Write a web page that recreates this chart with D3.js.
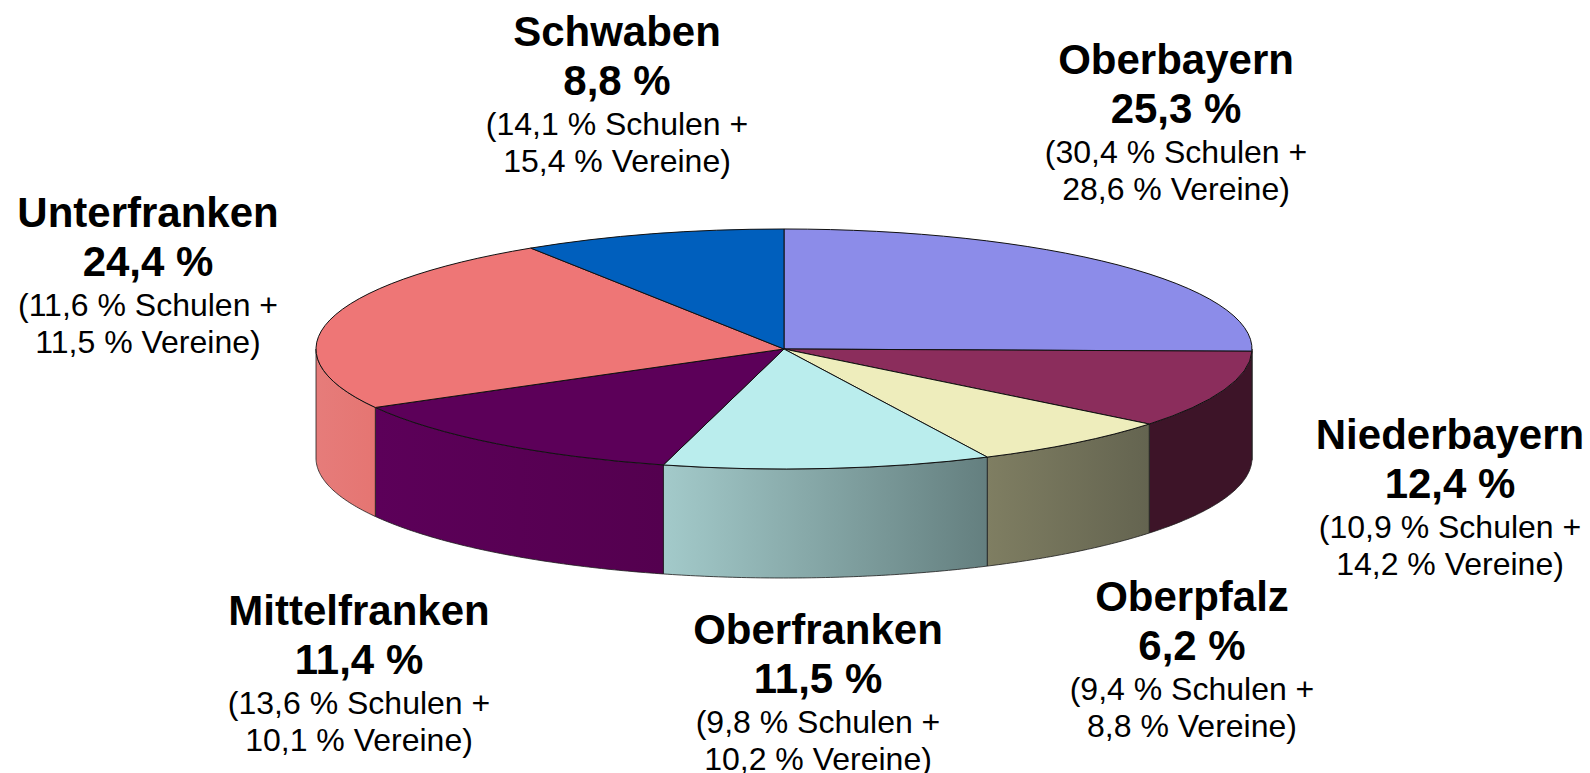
<!DOCTYPE html>
<html>
<head>
<meta charset="utf-8">
<script src="https://cdnjs.cloudflare.com/ajax/libs/d3/7.8.5/d3.min.js"></script>
<style>
  html, body { margin: 0; padding: 0; background: #fff; overflow: hidden; }
  svg { display: block; }
  text { font-family: "Liberation Sans", Arial, sans-serif; fill: #000; text-anchor: middle; }
  .name, .total { font-size: 42px; font-weight: bold; }
  .detail { font-size: 32px; }
</style>
</head>
<body>
<div id="chart"></div>
<script>
const regions = ["Oberbayern", "Niederbayern", "Oberpfalz", "Oberfranken", "Mittelfranken", "Unterfranken", "Schwaben"];
// printed labels
const totals  = ["25,3 %", "12,4 %", "6,2 %", "11,5 %", "11,4 %", "24,4 %", "8,8 %"];
const schulen = ["30,4", "10,9", "9,4", "9,8", "13,6", "11,6", "14,1"];
const vereine = ["28,6", "14,2", "8,8", "10,2", "10,1", "11,5", "15,4"];
// slice sizes as drawn in the picture, they differ a bit from the printed labels
const sliceShares = [25.3, 10.45, 7.1, 11.3, 12.75, 24.0, 9.1];

const topColors  = ["#8c8ce9", "#8b2d5c", "#eeedbc", "#baeded", "#5c0059", "#ee7676", "#005fbd"];
const wallLeft   = ["#6a6ab0", "#3d1428", "#7f7e62", "#a3caca", "#5c0059", "#e67c7a", "#005fbd"];
const wallRight  = ["#6a6ab0", "#3d1428", "#646450", "#647f7f", "#54004f", "#e57572", "#005fbd"];

const labelX    = [1176, 1450, 1192, 818, 359, 148, 617];
const labelY    = [74, 449, 611, 644, 625, 227, 46];

const width = 1590, height = 773;
const cx = 784, cy = 349, rx = 468, ry = 120, depth = 109;

const svg = d3.select("#chart")
              .append("svg")
                .attr("width", width)
                .attr("height", height);

const defs = svg.append("defs");

const slices = d3.pie().sort(null).value(d => d)(sliceShares);

const px = a => cx + rx * Math.sin(a);
const py = a => cy - ry * Math.cos(a);

// only the front half of the disc shows a wall
const wallFrom = Math.PI / 2, wallTo = Math.PI * 1.5;

const wall = d3.area()
  .x(px)
  .y0(py)
  .y1(a => py(a) + depth);

const walls = svg.append("g").attr("class", "walls");

slices.forEach(function(s, i) {
  const a0 = Math.max(s.startAngle, wallFrom);
  const a1 = Math.min(s.endAngle, wallTo);
  if (a1 <= a0) return;

  // angles run clockwise, so the left edge on screen is a1
  const grad = defs.append("linearGradient")
    .attr("id", "wall" + i)
    .attr("gradientUnits", "userSpaceOnUse")
    .attr("x1", Math.min(px(a0), px(a1)))
    .attr("x2", Math.max(px(a0), px(a1)))
    .attr("y1", 0)
    .attr("y2", 0);
  grad.append("stop").attr("offset", 0).attr("stop-color", wallLeft[i]);
  grad.append("stop").attr("offset", 1).attr("stop-color", wallRight[i]);

  const steps = d3.range(a0, a1, 0.01).concat([a1]);
  walls.append("path")
    .attr("d", wall(steps))
    .attr("fill", `url(#wall${i})`)
    .attr("stroke", "#1c1c1c")
    .attr("stroke-width", 0.8);
});

const arc = d3.arc().innerRadius(0).outerRadius(rx);

svg.append("g")
    .attr("transform", `translate(${cx},${cy}) scale(1,${ry / rx})`)
  .selectAll("path")
  .data(slices)
  .join("path")
    .attr("d", arc)
    .attr("fill", (d, i) => topColors[i])
    .attr("stroke", "#111")
    .attr("stroke-width", 1)
    .attr("stroke-linejoin", "round")
    .attr("vector-effect", "non-scaling-stroke");

const labels = svg.append("g")
  .selectAll("text")
  .data(regions)
  .join("text")
    .attr("transform", (d, i) => `translate(${labelX[i]},${labelY[i]})`);

labels.append("tspan").attr("class", "name").attr("x", 0).attr("y", 0)
  .text(d => d);
labels.append("tspan").attr("class", "total").attr("x", 0).attr("y", 49)
  .text((d, i) => totals[i]);
labels.append("tspan").attr("class", "detail").attr("x", 0).attr("y", 89)
  .text((d, i) => `(${schulen[i]} % Schulen +`);
labels.append("tspan").attr("class", "detail").attr("x", 0).attr("y", 126)
  .text((d, i) => `${vereine[i]} % Vereine)`);
</script>
</body>
</html>
